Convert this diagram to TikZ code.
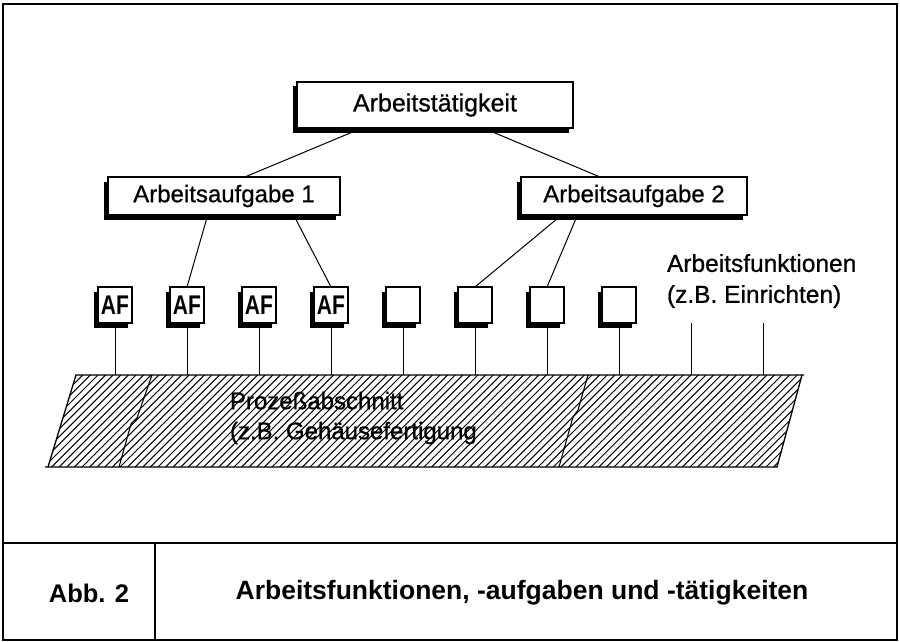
\documentclass[tikz,border=0pt]{standalone}
\usepackage{fontspec}
\setmainfont{Liberation Sans}
\newfontfamily\labelfont{Liberation Sans}[FakeBold=0.7]
\usetikzlibrary{shadows,calc}
% narrow bold tag printed in the small function boxes
\newcommand\narrowtag[1]{\scalebox{0.78}[1]{\bfseries #1}}
\begin{document}
\begin{tikzpicture}[x=1pt,y=-1pt,
  every node/.style={inner sep=0pt, outer sep=0pt},
  shadowbox/.style={draw, fill=white, line width=1.3pt,
    general shadow={fill=black, shadow xshift=-4.5pt, shadow yshift=-4.5pt},
    font=\labelfont\fontsize{24}{28}\selectfont},
  afbox/.style={shadowbox, minimum width=34pt, minimum height=36pt,
    font=\fontsize{27}{28}\selectfont},
  link/.style={line width=1pt},
  stem/.style={line width=1pt},
  hatch/.style={line width=1pt},
  frame/.style={line width=1.4pt},
  caption/.style={font=\bfseries\fontsize{25.5}{30}\selectfont}]
\useasboundingbox (0,0) rectangle (900,642);

% outer frame and caption row
\draw[frame] (3,4) rectangle (897,640);
\draw[frame] (3,543) -- (897,543);
\draw[frame] (155,543) -- (155,640);
\node[caption] (abb) at (89,593) {Abb. 2};
\node[caption, font=\bfseries\fontsize{26.5}{30}\selectfont] (title) at (522,593)
  {Arbeitsfunktionen, -aufgaben und -tätigkeiten};

% hatched process band
\begin{scope}
  \clip (48,467) -- (76,375) -- (802,375) -- (777,467) -- cycle;
  \foreach \k in {0,...,125}
    \draw[hatch] ({-70+7.6*\k},467) -- ++(92,-92);
\end{scope}
\draw[line width=1.3pt] (48,467) -- (76,375) -- (804,375);
\draw[line width=1.3pt] (802,375) -- (777,467) -- (45,467);
\draw[line width=1.1pt] (152,375) -- (137,418) -- (131,424) -- (119,467);
\draw[line width=1.1pt] (588,375) -- (578,410) -- (573,417) -- (559,467);
\coordinate (bandtop) at (0,375);
\node[anchor=west, align=left, font=\labelfont\fontsize{24}{30}\selectfont] (proc) at (230,418)
  {Prozeßabschnitt\\(z.B. Gehäusefertigung};

% hierarchy boxes
\node[shadowbox, minimum width=276pt, minimum height=46pt, font=\labelfont\fontsize{25}{28}\selectfont]
  (top) at (435,105) {Arbeitstätigkeit};
\node[shadowbox, minimum width=232pt, minimum height=38pt] (task1) at (224,196) {Arbeitsaufgabe 1};
\node[shadowbox, minimum width=226pt, minimum height=38pt] (task2) at (634,196) {Arbeitsaufgabe 2};

\node[afbox] (f1) at (115,305) {\narrowtag{AF}};
\node[afbox] (f2) at (187,305) {\narrowtag{AF}};
\node[afbox] (f3) at (259,305) {\narrowtag{AF}};
\node[afbox] (f4) at (331,305) {\narrowtag{AF}};
\node[afbox] (f5) at (403,305) {};
\node[afbox] (f6) at (475,305) {};
\node[afbox] (f7) at (547,305) {};
\node[afbox] (f8) at (619,305) {};
\coordinate (f9) at (691,323);
\coordinate (f10) at (763,323);

\node[anchor=west, align=left, font=\labelfont\fontsize{24.5}{31}\selectfont] (funcs) at (667,281)
  {Arbeitsfunktionen\\(z.B. Einrichten)};

% connectors
\draw[link] ($(top.south west)!0.236!(top.south east)$) -- ($(task1.north west)!0.59!(task1.north east)$);
\draw[link] ($(top.south west)!0.674!(top.south east)$) -- ($(task2.north west)!0.35!(task2.north east)$);
\draw[link] ($(task1.south west)!0.43!(task1.south east)$) -- (f2.north);
\draw[link] ($(task1.south west)!0.80!(task1.south east)$) -- (f4.north);
\draw[link] ($(task2.south west)!0.18!(task2.south east)$) -- (f6.north);
\draw[link] ($(task2.south west)!0.25!(task2.south east)$) -- (f7.north);

% stems down to the band
\foreach \i in {1,...,8}
  \draw[stem] (f\i.south) -- (f\i.south |- bandtop);
\draw[stem] (f9) -- (f9 |- bandtop);
\draw[stem] (f10) -- (f10 |- bandtop);
\end{tikzpicture}
\end{document}
